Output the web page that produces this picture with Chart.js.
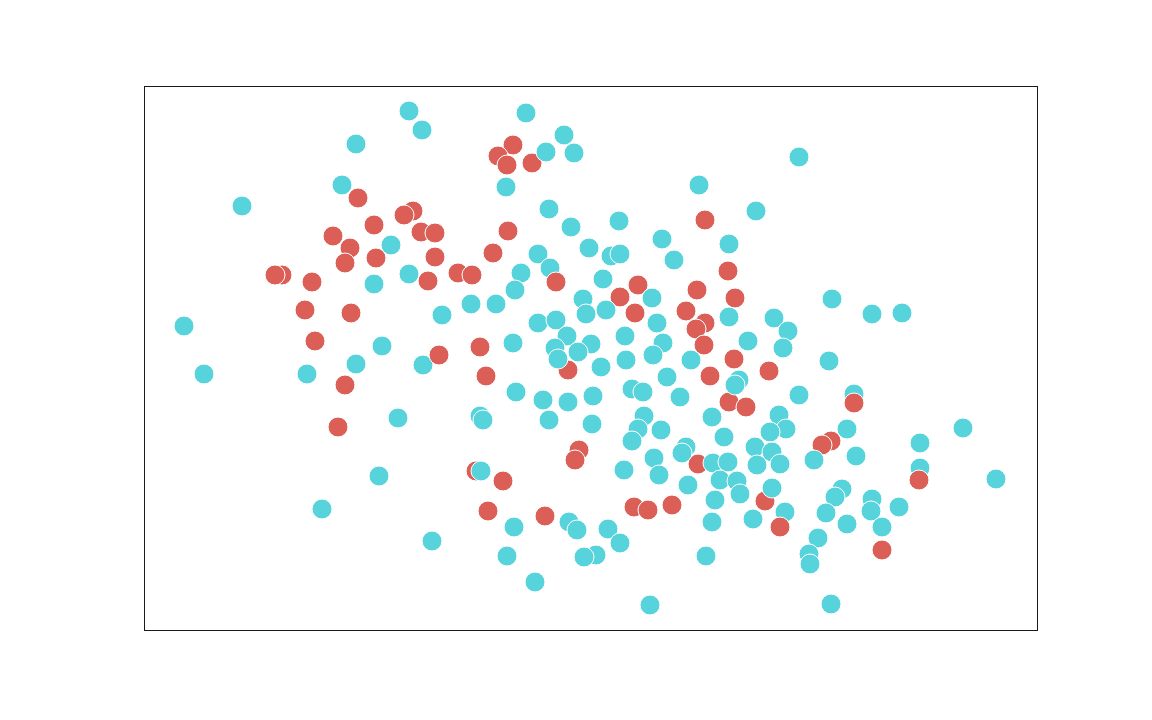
<!DOCTYPE html>
<html>
<head>
<meta charset="utf-8">
<script src="https://cdn.jsdelivr.net/npm/chart.js@4"></script>
<style>
html,body{margin:0;padding:0;background:#ffffff;}
#wrap{width:1152px;height:720px;}
</style>
</head>
<body>
<div id="wrap"><canvas id="c" width="1152" height="720"></canvas></div>
<script>
// Group "cyan" (second hue level)
const cyanX = [
 -1.81,-1.68,-2.34,-2.48,-3.48,-1.99,-1.81,-2.16,-1.48,-4.06,-2.08,-2.34,-1.67,-3.86,-2.83,
 -1.92,-2.11,-2.68,-1.58,-0.64,-0.26,-0.44,-0.16,-0.84,1.09,-0.41,-0.19,0.29,0.72,1.39,
 -0.01,-0.52,0.21,0.30,-0.40,0.84,-0.69,0.13,-0.75,0.62,-0.07,-1.19,-0.94,0.16,-0.04,
 1.39,0.67,-0.52,-0.34,0.35,-0.23,0.01,0.73,-0.77,-0.35,-0.32,-0.12,0.36,0.63,1.01,
 1.58,2.09,1.66,2.42,2.82,3.12,1.84,1.98,1.93,2.39,0.11,0.77,1.49,1.45,-0.74,
 -0.47,-0.22,0.03,0.42,0.53,0.90,2.09,2.64,-1.10,-1.07,-0.41,0.02,0.54,0.48,0.42,
 0.71,1.22,1.34,1.89,1.96,1.80,2.57,0.64,0.69,0.96,0.92,1.23,1.38,1.30,1.47,
 1.50,0.98,1.25,1.22,0.34,1.65,1.82,1.67,1.90,2.24,2.66,3.30,3.73,3.30,4.06,
 1.82,1.95,1.63,2.52,2.45,2.36,2.57,2.82,2.81,3.09,2.92,2.28,2.19,2.20,2.41,
 -1.09,-0.76,-0.21,-0.13,0.18,0.30,0.06,-0.06,-0.83,-0.55,0.60,1.16
];
const cyanY = [
 2.47,2.28,2.14,1.73,1.52,1.13,0.84,0.74,0.43,0.32,0.12,-0.06,-0.07,-0.16,-0.16,
 -0.60,-1.18,-1.51,-1.83,2.45,2.23,2.06,2.05,1.71,1.73,1.49,1.31,1.37,1.19,1.14,
 1.10,1.04,1.02,1.04,0.90,0.98,0.85,0.79,0.68,0.60,0.59,0.54,0.54,0.48,0.44,
 0.41,0.35,0.35,0.38,0.22,0.22,0.14,0.15,0.15,0.10,-0.01,0.06,-0.02,0.03,-0.02,
 0.17,2.01,1.47,0.59,0.44,0.45,0.40,0.27,0.10,-0.03,-0.09,-0.19,-0.22,-0.27,-0.34,
 -0.42,-0.44,-0.38,-0.31,-0.34,-0.39,-0.37,-0.36,-0.58,-0.62,-0.62,-0.66,-0.58,-0.71,-0.83,
 -0.72,-0.59,-0.79,-0.57,-0.71,-0.74,-0.71,-1.00,-1.17,-0.89,-0.95,-1.05,-1.04,-1.22,-1.23,
 -1.36,-1.27,-1.42,-1.64,-1.12,-0.89,-0.94,-1.07,-1.06,-1.02,-0.98,-0.85,-0.70,-1.10,-1.21,
 -1.30,-1.54,-1.61,-1.31,-1.39,-1.55,-1.66,-1.41,-1.53,-1.49,-1.69,-1.80,-1.96,-2.06,-2.46,
 -1.13,-1.69,-1.64,-1.72,-1.71,-1.85,-1.97,-1.99,-1.98,-2.24,-2.47,-1.98
];
// Group "red" (first hue level)
const redX = [
 -2.32,-1.77,-1.86,-2.16,-1.69,-1.55,-2.57,-2.40,-2.14,-2.45,-1.55,-3.08,-3.15,-1.62,-2.78,
 -2.85,-2.39,-2.75,-1.51,-2.45,-2.52,-0.77,-0.92,-0.83,-0.58,1.15,-0.82,-0.97,1.38,-1.32,
 -1.18,-0.34,0.48,1.07,1.45,0.30,0.96,0.45,1.15,1.06,1.14,-1.10,1.44,-1.04,-0.22,
 1.20,1.79,1.39,1.56,2.64,2.41,2.32,-0.11,-0.15,1.08,-1.14,-0.87,3.29,1.75,0.44,
 0.58,0.82,-1.02,-0.45,1.90,2.92
];
const redY = [
 1.60,1.47,1.43,1.33,1.26,1.25,1.22,1.10,1.00,0.95,1.01,0.83,0.83,0.77,0.76,
 0.48,0.45,0.17,0.03,-0.27,-0.69,2.13,2.02,1.93,1.95,1.38,1.27,1.05,0.87,0.85,
 0.83,0.76,0.73,0.68,0.60,0.61,0.47,0.45,0.35,0.29,0.13,0.11,-0.01,-0.18,-0.12,
 -0.18,-0.13,-0.44,-0.49,-0.45,-0.83,-0.87,-0.92,-1.02,-1.06,-1.13,-1.23,-1.22,-1.43,-1.49,
 -1.52,-1.47,-1.53,-1.58,-1.69,-1.92
];
// red points that were plotted after (above) the neighbouring cyan points
const redDrawnAbove = [18, 31, 49, 57, 64];

const xLimits = [-4.46, 4.47];
const yLimits = [-2.72, 2.72];

const CYAN = '#57d3db';
const RED = '#db5f57';

function toPoints(xs, ys, keep){
  const out = [];
  xs.forEach((x,i)=>{ if (keep(i)) out.push({x:x, y:ys[i]}); });
  return out;
}

const framePlugin = {
  id:'frame',
  afterDraw(chart){
    const a = chart.chartArea, c = chart.ctx;
    c.save();
    c.strokeStyle = '#1a1a1a';
    c.lineWidth = 1;
    c.strokeRect(Math.round(a.left)+0.5, Math.round(a.top)+0.5,
                 Math.round(a.right-a.left), Math.round(a.bottom-a.top));
    c.restore();
  }
};

const common = {borderColor:'#ffffff', borderWidth:1, pointRadius:10, pointHoverRadius:10};

new Chart(document.getElementById('c').getContext('2d'), {
  type:'scatter',
  data:{
    datasets:[
      Object.assign({label:'red (top)', backgroundColor:RED,
        data:toPoints(redX, redY, i=>redDrawnAbove.includes(i))}, common),
      Object.assign({label:'cyan', backgroundColor:CYAN,
        data:toPoints(cyanX, cyanY, ()=>true)}, common),
      Object.assign({label:'red', backgroundColor:RED,
        data:toPoints(redX, redY, i=>!redDrawnAbove.includes(i))}, common)
    ]
  },
  options:{
    responsive:false,
    animation:false,
    layout:{padding:{left:144,right:115,top:86,bottom:90}},
    plugins:{legend:{display:false}, tooltip:{enabled:false}},
    scales:{
      x:{type:'linear', min:xLimits[0], max:xLimits[1], display:false},
      y:{type:'linear', min:yLimits[0], max:yLimits[1], display:false}
    }
  },
  plugins:[framePlugin]
});
</script>
</body>
</html>
